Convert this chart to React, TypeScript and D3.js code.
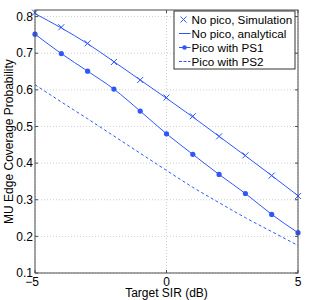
import React from 'react';
import * as d3 from 'd3';

// target SIR (dB)
const sir = [-5, -4, -3, -2, -1, 0, 1, 2, 3, 4, 5];
const noPicoSim = [0.811, 0.771, 0.727, 0.676, 0.627, 0.579, 0.528, 0.473, 0.421, 0.366, 0.31];
const noPicoAna = [0.808, 0.769, 0.726, 0.677, 0.627, 0.577, 0.526, 0.473, 0.42, 0.366, 0.311];
const picoPS1 = [0.752, 0.699, 0.651, 0.602, 0.542, 0.48, 0.424, 0.369, 0.317, 0.26, 0.21];
const picoPS2 = [0.614, 0.567, 0.521, 0.474, 0.427, 0.38, 0.334, 0.292, 0.251, 0.213, 0.175];

const xTicks = [-5, 0, 5];
const yTicks = [0.1, 0.2, 0.3, 0.4, 0.5, 0.6, 0.7, 0.8];
const legendLabels = ['No pico, Simulation', 'No pico, analytical', 'Pico with PS1', 'Pico with PS2'];

const W = 309, H = 300;
const left = 35, right = 298, top = 10, bottom = 273;
const blue = '#2f55ff';
const font = '"Liberation Sans", Arial, Helvetica, sans-serif';

const App = () => {
  const x = d3.scaleLinear().domain([-5, 5]).range([left, right]);
  const y = d3.scaleLinear().domain([0.1, 0.818]).range([bottom, top]);

  const line = d3
    .line<number>()
    .x((d, i) => x(sir[i]))
    .y((d) => y(d))
    .curve(d3.curveMonotoneX);

  const fmt = (v: number) => (v < 0 ? '\u2212' + Math.abs(v) : String(v));

  const cross = (cx: number, cy: number, k: string) => (
    <path
      key={k}
      d={`M${cx - 3},${cy - 3}L${cx + 3},${cy + 3}M${cx - 3},${cy + 3}L${cx + 3},${cy - 3}`}
      stroke={blue}
      strokeWidth={1}
      fill="none"
    />
  );

  // legend layout
  const lgX = 174, lgY = 11, lgW = 121, lgH = 58;
  const rowY = [19.5, 33.5, 47.5, 61.5];

  return (
    <svg width={W} height={H} style={{ position: 'absolute', left: 0, top: 0, background: '#fff' }} fontFamily={font}>
      <rect x={0} y={0} width={W} height={H} fill="#fff" />

      {/* grid */}
      {yTicks.map((t) => (
        <line key={'gy' + t} x1={left} x2={right} y1={y(t)} y2={y(t)} stroke="#d0d0d0" strokeWidth={1} strokeDasharray="1,2" />
      ))}
      {xTicks.map((t) => (
        <line key={'gx' + t} x1={x(t)} x2={x(t)} y1={top} y2={bottom} stroke="#d0d0d0" strokeWidth={1} strokeDasharray="1,2" />
      ))}

      {/* series */}
      <path d={line(picoPS2) || ''} fill="none" stroke={blue} strokeWidth={1} strokeDasharray="3,2.5" />
      <path d={line(picoPS1) || ''} fill="none" stroke={blue} strokeWidth={1} />
      <path d={line(noPicoAna) || ''} fill="none" stroke={blue} strokeWidth={1} />
      {picoPS1.map((v, i) => (
        <circle key={'p' + i} cx={x(sir[i])} cy={y(v)} r={2.6} fill={blue} />
      ))}
      {noPicoSim.map((v, i) => cross(x(sir[i]), y(v), 's' + i))}

      {/* axes box */}
      <rect x={left} y={top} width={right - left} height={bottom - top} fill="none" stroke="#4d4d4d" strokeWidth={1} />
      {yTicks.map((t) => (
        <g key={'ty' + t}>
          <line x1={left} x2={left + 3} y1={y(t)} y2={y(t)} stroke="#4d4d4d" />
          <line x1={right - 3} x2={right} y1={y(t)} y2={y(t)} stroke="#4d4d4d" />
          <text x={left - 2} y={y(t)} dy="0.35em" textAnchor="end" fontSize={12} fill="#000">
            {t.toFixed(1)}
          </text>
        </g>
      ))}
      {xTicks.map((t) => (
        <g key={'tx' + t}>
          <line x1={x(t)} x2={x(t)} y1={bottom} y2={bottom - 3} stroke="#4d4d4d" />
          <line x1={x(t)} x2={x(t)} y1={top} y2={top + 3} stroke="#4d4d4d" />
          <text x={x(t)} dx={t < 0 ? -3 : 0} y={285.5} textAnchor="middle" fontSize={12} fill="#000">
            {fmt(t)}
          </text>
        </g>
      ))}

      <text x={(left + right) / 2} y={297} textAnchor="middle" fontSize={12} fill="#000">
        Target SIR (dB)
      </text>
      <text
        transform={`translate(12.5,${(top + bottom) / 2}) rotate(-90)`}
        textAnchor="middle"
        fontSize={12}
        fill="#000"
      >
        MU Edge Coverage Probability
      </text>

      {/* legend */}
      <rect x={lgX} y={lgY} width={lgW} height={lgH} fill="#fff" stroke="#333" strokeWidth={1} />
      {cross(183.5, rowY[0], 'lg0')}
      <line x1={179} x2={190.5} y1={rowY[1]} y2={rowY[1]} stroke={blue} />
      <line x1={179} x2={190.5} y1={rowY[2]} y2={rowY[2]} stroke={blue} />
      <circle cx={184.5} cy={rowY[2]} r={2.3} fill={blue} />
      <line x1={179} x2={190.5} y1={rowY[3]} y2={rowY[3]} stroke={blue} strokeDasharray="3,1.5" />
      {legendLabels.map((l, i) => (
        <text key={l} x={191.5} y={rowY[i]} dy="0.35em" fontSize={11.7} fill="#000">
          {l}
        </text>
      ))}
    </svg>
  );
};

export default App;
